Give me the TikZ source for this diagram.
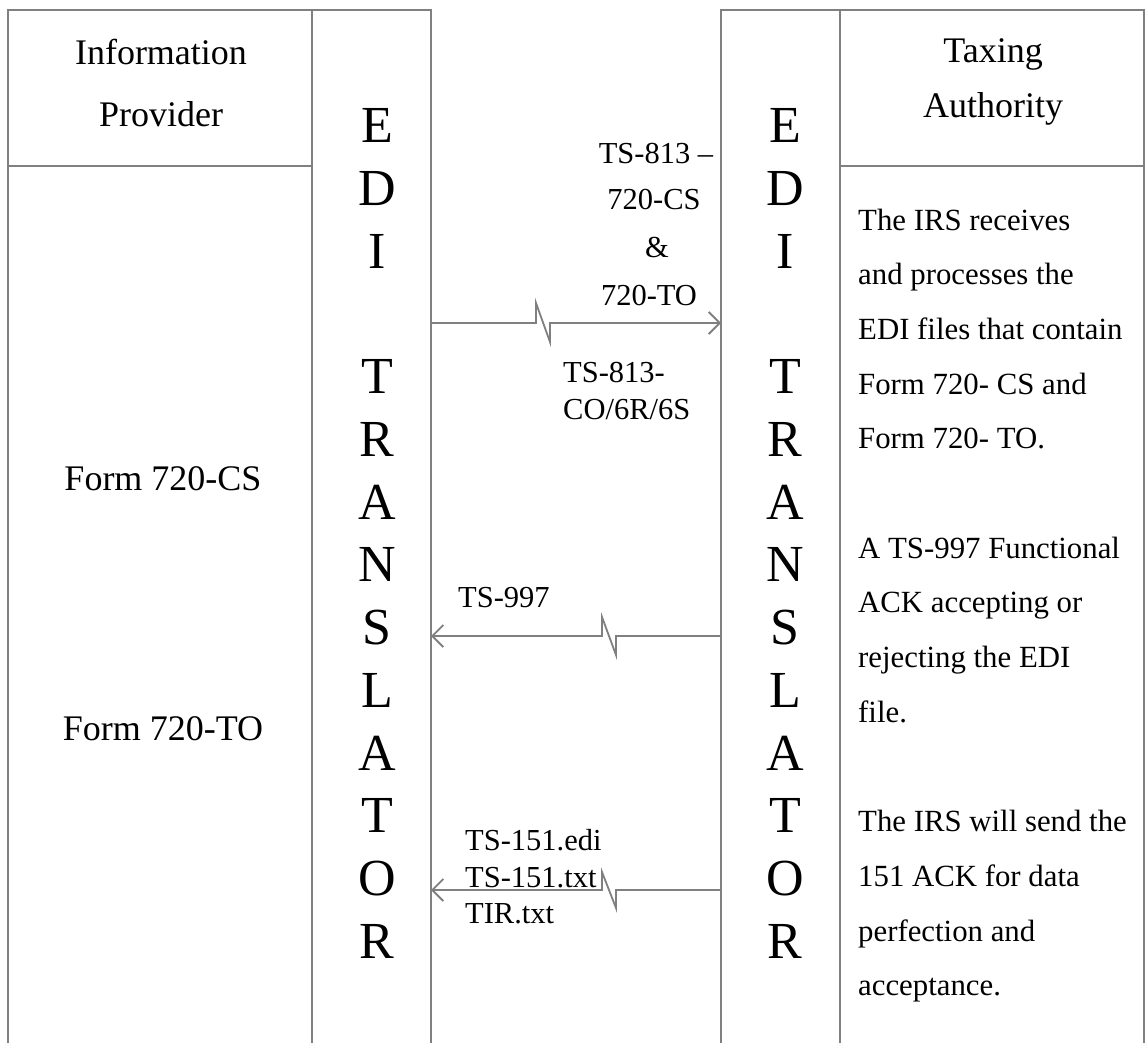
\documentclass[tikz,border=0pt]{standalone}
\usepackage{fontspec}
\setmainfont{Liberation Serif}
\usetikzlibrary{arrows.meta}
\definecolor{rule}{RGB}{128,128,128}
\begin{document}
\begin{tikzpicture}[x=1pt,y=-1pt,
  frame/.style={draw=rule, line width=1.8pt},
  flow/.style={draw=rule, line width=1.8pt, -{Straight Barb[length=11pt,width=22pt]}},
  head/.style={font=\fontsize{36}{42}\selectfont, inner sep=0pt, anchor=base},
  big/.style={font=\fontsize{52}{60}\selectfont, inner sep=0pt, anchor=base},
  lbl/.style={font=\fontsize{30.5}{36}\selectfont, inner sep=0pt, anchor=base west},
  lblc/.style={font=\fontsize{30.5}{36}\selectfont, inner sep=0pt, anchor=base},
  body/.style={font=\fontsize{30.8}{36}\selectfont, inner sep=0pt, anchor=base west}]
\fill[white] (0,0) rectangle (1145,1043);
\useasboundingbox (0,0) rectangle (1145,1043);
% left frame
\draw[frame] (8,1043) -- (8,10) -- (431,10) -- (431,1043);
\draw[frame] (312,10) -- (312,1043);
\draw[frame] (8,166) -- (312,166);
% right frame
\draw[frame] (721,1043) -- (721,10) -- (1144,10) -- (1144,1043);
\draw[frame] (840,10) -- (840,1043);
\draw[frame] (840,166) -- (1144,166);
% headers
\node[head] (ip1) at (161,65) {Information};
\node[head] (ip2) at (161,127) {Provider};
\node[head] (ta1) at (993,63) {Taxing};
\node[head] (ta2) at (993,118) {Authority};
% forms
\node[head] (f1) at (163,490) {Form 720-CS};
\node[head] (f2) at (163,740) {Form 720-TO};
% EDI translator letters
\foreach \c/\k in {E/0,D/1,I/2,T/4,R/5,A/6,N/7,S/8,L/9,A/10,T/11,O/12,R/13}{
  \node[big] (edL\k) at (377,{143+62.7*\k}) {\c};
  \node[big] (edR\k) at (785,{143+62.7*\k}) {\c};
}
% right description
\foreach \t/\k in {The IRS receives/0, and processes the/1, EDI files that contain/2,
  Form 720- CS and/3, Form 720- TO./4, A TS-997 Functional/6, ACK accepting or/7,
  rejecting the EDI/8, file./9, The IRS will send the/11, 151 ACK for data/12,
  perfection and/13, acceptance./14}{
  \node[body] (d\k) at (858,{230+54.7*\k}) {\t};
}
% connector end points
\coordinate (aL1) at (431,323); \coordinate (aR1) at (721,323);
\coordinate (aL2) at (431,636); \coordinate (aR2) at (721,636);
\coordinate (aL3) at (431,890); \coordinate (aR3) at (721,890);
\draw[flow] (aL1) -- ++(105,0) -- ++(0,-20) -- ++(14,39) -- ++(0,-19) -- (aR1);
\draw[flow] (aR2) -- ++(-105,0) -- ++(0,19) -- ++(-14,-38) -- ++(0,19) -- (aL2);
\draw[flow] (aR3) -- ++(-105,0) -- ++(0,18) -- ++(-14,-36) -- ++(0,18) -- (aL3);
% labels
\node[lblc] (m1) at (656,164) {TS-813 –};
\node[lblc] (m2) at (654,210) {720-CS};
\node[lblc] (m3) at (657,257) {\&};
\node[lblc] (m4) at (649,305) {720-TO};
\node[lbl] (m5) at (563,382) {TS-813-};
\node[lbl] (m6) at (563,419) {CO/6R/6S};
\node[lbl] (m7) at (458,607) {TS-997};
\node[lbl] (m8) at (465,850) {TS-151.edi};
\node[lbl] (m9) at (465,887) {TS-151.txt};
\node[lbl] (m10) at (465,923) {TIR.txt};
\end{tikzpicture}
\end{document}
